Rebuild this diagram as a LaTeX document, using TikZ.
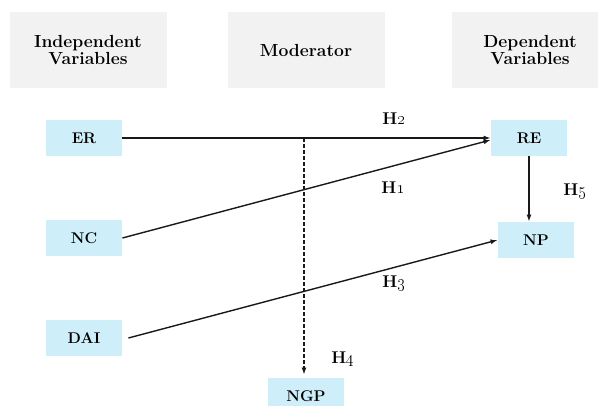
\documentclass[tikz,border=0pt]{standalone}
\usepackage{tikz}
\usepackage{xcolor}
\usetikzlibrary{positioning, arrows.meta}

\definecolor{headgray}{RGB}{242,242,242}
\definecolor{varblue}{RGB}{206,238,250}

\begin{document}
\begin{tikzpicture}[x=1pt,y=-1pt,node distance=100pt,thick,
                    head node/.style={fill=headgray,minimum width=157pt,minimum height=76pt,align=center,
                                      font=\fontsize{17.5}{17.5}\selectfont\bfseries},
                    var node/.style={fill=varblue,minimum width=76pt,minimum height=36pt,
                                     font=\fontsize{15.5}{17}\selectfont\bfseries},
                    hyp node/.style={anchor=base,font=\fontsize{17}{17}\selectfont\bfseries},
                    link/.style={line width=1.4pt,draw=black!90,-{Latex[length=7pt,width=5pt]}}]

  \useasboundingbox (0,0) rectangle (598,405);

  % column heads
  \node[head node] (indep) at (88,50) {Independent\\Variables};
  \node[head node] (moder) at (306,50) {Moderator};
  \node[head node] (dep) at (530,50) {Dependent\\Variables};

  % variables
  \node[var node] (ER) at (84,138) {ER};
  \node[var node] (NC) [below of=ER] {NC};
  \node[var node] (DAI) [below of=NC] {DAI};
  \node[var node] (RE) at (529,138) {RE};
  \node[var node] (NP) at (536,240) {NP};
  \node[var node] (NGP) at (306,396) {NGP};

  \coordinate (split) at (304,138);

  \draw[link] (ER) -- (RE);
  \draw[link] (NC.east) -- ([yshift=-2pt]RE.west);
  \draw[link] ([xshift=6pt]DAI.east) -- (NP.west);
  \draw[link] (RE.south) -- (RE.south |- NP.north);
  \draw[link,dash pattern=on 4pt off 2pt] (split) -- ([yshift=3pt]split |- NGP.north);

  % hypotheses
  \node[hyp node] (h2) at (394,124) {H\oldstylenums{2}};
  \node[hyp node] (h1) at (393,193) {H\oldstylenums{1}};
  \node[hyp node] (h5) at (575,195) {H\oldstylenums{5}};
  \node[hyp node] (h3) at (394,287) {H\oldstylenums{3}};
  \node[hyp node] (h4) at (343,363) {H\oldstylenums{4}};
\end{tikzpicture}
\end{document}
